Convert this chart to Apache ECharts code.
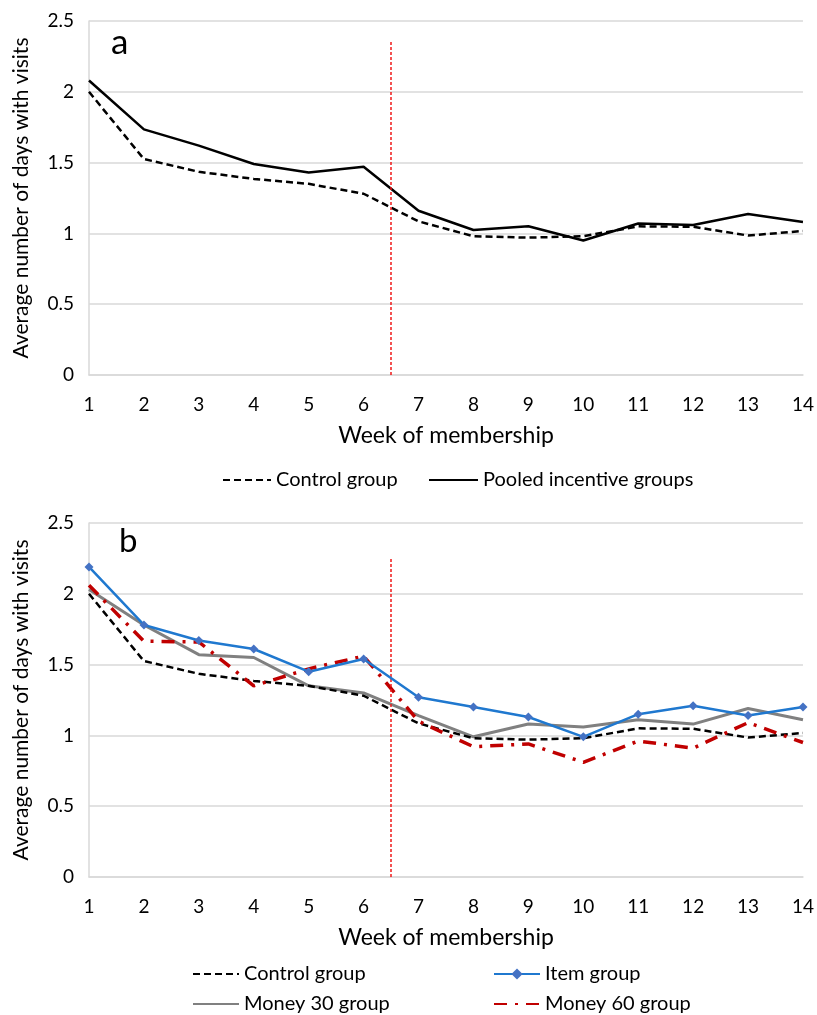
<!DOCTYPE html>
<html>
<head>
<meta charset="utf-8">
<script src="https://cdn.jsdelivr.net/npm/echarts@6/dist/echarts.min.js"></script>
<style>
  html, body { margin: 0; padding: 0; background: #fff; }
  #main { width: 817px; height: 1015px; }
</style>
</head>
<body>
<div id="main"></div>
<script>
const weeks = [1, 2, 3, 4, 5, 6, 7, 8, 9, 10, 11, 12, 13, 14];
const controlGroup = [2.00, 1.525, 1.435, 1.385, 1.35, 1.28, 1.085, 0.98, 0.97, 0.98, 1.05, 1.047, 0.985, 1.017];
const pooledGroups = [2.08, 1.735, 1.62, 1.49, 1.43, 1.47, 1.16, 1.024, 1.05, 0.95, 1.07, 1.06, 1.137, 1.08];
const itemGroup = [2.19, 1.78, 1.67, 1.61, 1.45, 1.54, 1.27, 1.20, 1.13, 0.99, 1.15, 1.21, 1.14, 1.20];
const money30Group = [2.03, 1.78, 1.57, 1.55, 1.35, 1.30, 1.14, 0.99, 1.08, 1.06, 1.11, 1.08, 1.19, 1.11];
const money60Group = [2.06, 1.665, 1.66, 1.35, 1.47, 1.56, 1.10, 0.92, 0.94, 0.81, 0.96, 0.91, 1.09, 0.95];
const yTicks = [0, 0.5, 1, 1.5, 2, 2.5];
// intervention cut-off line (between week 6 and 7)
const cutWeek = 6.5;
const cutTopA = 2.36;
const cutTopB = 2.26;

const pairs = arr => weeks.map((w, i) => [w, arr[i]]);
const font = 'Lato, "Open Sans", sans-serif';
const gridColor = '#d9d9d9';

const chart = echarts.init(document.getElementById('main'));

function xAxisFor(idx) {
    return {
        gridIndex: idx,
        type: 'value',
        min: 1,
        max: 14,
        interval: 1,
        name: 'Week of membership',
        nameLocation: 'middle',
        nameGap: 49,
        nameTextStyle: { fontSize: 23, color: '#000', fontFamily: font },
        axisLine: { show: true, lineStyle: { color: gridColor, width: 1.5 } },
        axisTick: { show: false },
        splitLine: { show: false },
        axisLabel: { fontSize: 19, color: '#000', fontFamily: font, margin: 20 }
    };
}
function yAxisFor(idx) {
    return {
        gridIndex: idx,
        type: 'value',
        min: yTicks[0],
        max: yTicks[yTicks.length - 1],
        interval: 0.5,
        name: 'Average number of days with visits',
        nameLocation: 'middle',
        nameGap: 57,
        nameTextStyle: { fontSize: 21, color: '#000', fontFamily: font },
        axisLine: { show: true, lineStyle: { color: gridColor, width: 1.5 } },
        axisTick: { show: false },
        splitLine: { show: true, lineStyle: { color: gridColor, width: 1.5 } },
        axisLabel: { fontSize: 19, color: '#000', fontFamily: font, margin: 15 }
    };
}
function cutLine(top) {
    return {
        silent: true,
        symbol: 'none',
        label: { show: false },
        itemStyle: { color: '#f01818' },
        lineStyle: { color: '#f01818', type: [3, 2], width: 1.5, opacity: 1 },
        emphasis: { disabled: true },
        data: [[{ coord: [cutWeek, 0] }, { coord: [cutWeek, top] }]]
    };
}
const controlStyle = { color: '#000', width: 2.5, type: [7, 4] };
const legendText = { fontSize: 20, color: '#000', fontFamily: font };
const noMarker = { opacity: 0 };
const panelLetter = { fontWeight: 'normal', color: '#000', fontFamily: font };

const option = {
    animation: false,
    backgroundColor: '#fff',
    textStyle: { fontFamily: font },
    title: [
        { text: 'a', left: 106, top: 20, textStyle: Object.assign({ fontSize: 35 }, panelLetter) },
        { text: 'b', left: 114, top: 520, textStyle: Object.assign({ fontSize: 33 }, panelLetter) }
    ],
    grid: [
        { left: 89, right: 13, top: 21, height: 354 },
        { left: 89, right: 13, top: 523, height: 354 }
    ],
    xAxis: [xAxisFor(0), xAxisFor(1)],
    yAxis: [yAxisFor(0), yAxisFor(1)],
    legend: [
        { data: ['Control group'], left: 217, top: 465, itemWidth: 48, itemHeight: 14, itemStyle: noMarker, textStyle: legendText },
        { data: ['Pooled incentive groups'], left: 423, top: 465, itemWidth: 49, itemHeight: 14, itemStyle: noMarker, textStyle: legendText },
        { data: ['Control group'], left: 187, top: 959, itemWidth: 46, itemHeight: 14, itemStyle: noMarker, textStyle: legendText },
        { data: ['Item group'], left: 488, top: 959, itemWidth: 46, itemHeight: 14, textStyle: legendText },
        { data: ['Money 30 group'], left: 187, top: 989, itemWidth: 46, itemHeight: 14, itemStyle: noMarker, textStyle: legendText },
        { data: ['Money 60 group'], left: 488, top: 989, itemWidth: 46, itemHeight: 14, itemStyle: noMarker, textStyle: legendText }
    ],
    series: [
        {
            name: 'Control group', type: 'line', xAxisIndex: 0, yAxisIndex: 0,
            data: pairs(controlGroup), symbol: 'none', lineStyle: controlStyle, color: '#000',
            markLine: cutLine(cutTopA), z: 3
        },
        {
            name: 'Pooled incentive groups', type: 'line', xAxisIndex: 0, yAxisIndex: 0,
            data: pairs(pooledGroups), symbol: 'none', color: '#000',
            lineStyle: { color: '#000', width: 2.5 }, z: 3
        },
        {
            name: 'Money 30 group', type: 'line', xAxisIndex: 1, yAxisIndex: 1,
            data: pairs(money30Group), symbol: 'none', color: '#808080',
            lineStyle: { color: '#808080', width: 3 }, z: 2
        },
        {
            name: 'Control group', type: 'line', xAxisIndex: 1, yAxisIndex: 1,
            data: pairs(controlGroup), symbol: 'none', lineStyle: controlStyle, color: '#000',
            markLine: cutLine(cutTopB), z: 3
        },
        {
            name: 'Money 60 group', type: 'line', xAxisIndex: 1, yAxisIndex: 1,
            data: pairs(money60Group), symbol: 'none', color: '#c00000',
            lineStyle: { color: '#c00000', width: 3.5, type: [13, 8, 3, 8] }, z: 4
        },
        {
            name: 'Item group', type: 'line', xAxisIndex: 1, yAxisIndex: 1,
            data: pairs(itemGroup), symbol: 'diamond', symbolSize: 9, showAllSymbol: true,
            itemStyle: { color: '#4472c4' },
            lineStyle: { color: '#1f78cf', width: 2.5 }, z: 5
        }
    ]
};
chart.setOption(option);
</script>
</body>
</html>
